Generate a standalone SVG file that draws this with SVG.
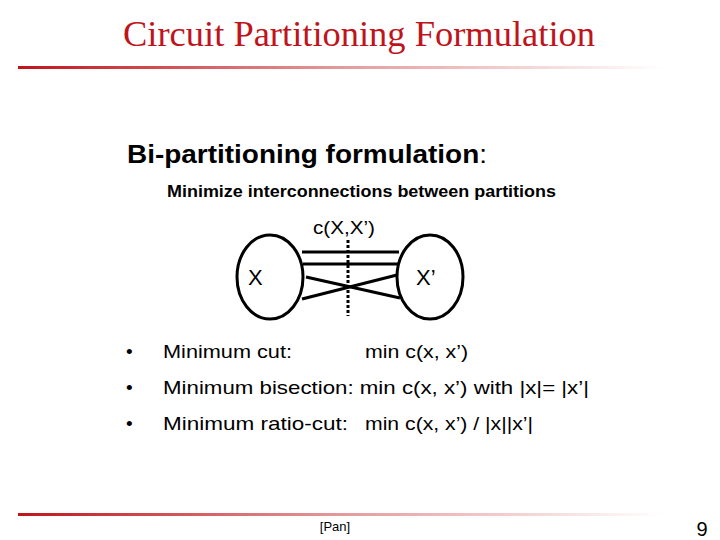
<svg xmlns="http://www.w3.org/2000/svg" width="720" height="540" viewBox="0 0 720 540">
<defs>
<linearGradient id="rg" x1="0" x2="1" y1="0" y2="0">
<stop offset="0" stop-color="#c0141c"/><stop offset="0.5" stop-color="#e49a9c"/><stop offset="1" stop-color="#ffffff"/>
</linearGradient>
<style>
.s{font-family:"Liberation Sans",Arial,sans-serif;fill:#000}
.n{fill:none;stroke:#000;stroke-width:3}
</style>
</defs>
<rect width="720" height="540" fill="#fff"/>
<text x="123" y="46" font-family="Liberation Serif,serif" font-size="35" fill="#c0141c" textLength="472" lengthAdjust="spacingAndGlyphs">Circuit Partitioning  Formulation</text>
<rect x="18" y="66" width="645" height="3" fill="url(#rg)"/>
<rect x="18" y="513" width="645" height="3" fill="url(#rg)"/>
<text class="s" x="127" y="163" font-size="25" font-weight="bold" textLength="360" lengthAdjust="spacingAndGlyphs">Bi-partitioning formulation<tspan font-weight="normal">:</tspan></text>
<text class="s" x="167" y="197" font-size="17" font-weight="bold" textLength="389" lengthAdjust="spacingAndGlyphs">Minimize interconnections between partitions</text>
<text class="s" x="313" y="234" font-size="19" textLength="62" lengthAdjust="spacingAndGlyphs">c(X,X’)</text>
<g id="X"><ellipse class="n" cx="270" cy="277" rx="33" ry="42"/><text class="s" x="248" y="285" font-size="22">X</text></g>
<g id="Xp"><ellipse class="n" cx="430" cy="277" rx="33" ry="42"/><text class="s" x="416" y="285" font-size="22">X’</text></g>
<g id="connectors" stroke="#000" stroke-width="3">
<line x1="302" y1="252" x2="399" y2="252"/>
<line x1="303" y1="264" x2="398" y2="264"/>
<line x1="306" y1="277" x2="400" y2="298"/>
<line x1="302" y1="299" x2="397" y2="275"/>
<line x1="348" y1="240" x2="348" y2="316" stroke-dasharray="3,2"/>
</g>
<g class="s" font-size="19">
<text x="126" y="358">•</text><text x="163" y="358" textLength="129" lengthAdjust="spacingAndGlyphs">Minimum cut:</text><text x="365" y="358" textLength="103" lengthAdjust="spacingAndGlyphs">min c(x, x’)</text>
<text x="126" y="394">•</text><text x="163" y="394" textLength="426" lengthAdjust="spacingAndGlyphs">Minimum bisection:  min c(x, x’) with |x|= |x’|</text>
<text x="126" y="430">•</text><text x="163" y="430" textLength="185" lengthAdjust="spacingAndGlyphs">Minimum ratio-cut:</text><text x="365" y="430" textLength="168" lengthAdjust="spacingAndGlyphs">min c(x, x’) / |x||x’|</text>
</g>
<text class="s" x="335" y="531" font-size="13" text-anchor="middle">[Pan]</text>
<text class="s" x="702" y="536" font-size="20" text-anchor="middle">9</text>
</svg>
